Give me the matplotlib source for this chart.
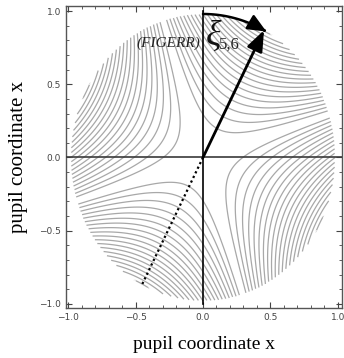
import numpy as np
import matplotlib
matplotlib.use('Agg')
import matplotlib.pyplot as plt
from matplotlib.patches import FancyArrowPatch
from matplotlib.path import Path
from matplotlib.ticker import MultipleLocator

# orientation of the astigmatism axis (degrees) and plotted contour levels
xi_deg = 62.5
contour_levels = [-0.95, -0.90, -0.85, -0.80, -0.75, -0.70, -0.65, -0.60, -0.55,
                  -0.50, -0.45, -0.40, -0.35, -0.30, -0.25, -0.20, -0.15, -0.10, -0.05,
                  0.05, 0.10, 0.15, 0.20, 0.25, 0.30, 0.35, 0.40, 0.45, 0.50,
                  0.55, 0.60, 0.65, 0.70, 0.75, 0.80, 0.85, 0.90, 0.95]
pupil_radius = 0.98
tick_major = [-1.0, -0.5, 0.0, 0.5, 1.0]
label_x = 'pupil coordinate x'
label_y = 'pupil coordinate x'

serif = 'Liberation Serif'

fig = plt.figure(figsize=(3.44, 3.58), dpi=100)
ax = fig.add_axes([0.192, 0.140, 0.802, 0.843])

# astigmatic wavefront r^2 cos(2(theta - xi)) inside the pupil
g = np.linspace(-1.0, 1.0, 500)
X, Y = np.meshgrid(g, g)
R = np.hypot(X, Y)
T = np.arctan2(Y, X)
xi = np.deg2rad(xi_deg)
Z = R**2 * np.cos(2 * (T - xi))
Z = np.ma.masked_where(R > pupil_radius, Z)
ax.contour(X, Y, Z, levels=contour_levels, colors='#a8a8a8', linewidths=0.9,
           linestyles='solid')

# pupil axes
ax.axhline(0, color='#3a3a3a', lw=1.2, zorder=3)
ax.plot([0, 0], [-1, 1], color='black', lw=1.2, zorder=3)

# axis direction and its opposite (dotted)
tip = (pupil_radius * np.cos(xi), pupil_radius * np.sin(xi))
ax.annotate('', xy=tip, xytext=(0, 0),
            arrowprops=dict(arrowstyle='-|>,head_length=0.9,head_width=0.35',
                            lw=2.0, color='black', mutation_scale=14,
                            shrinkA=0, shrinkB=0), zorder=5)
ax.plot([0, -tip[0]], [0, -tip[1]], color='black', lw=1.6, ls=(0, (1, 1.3)), zorder=4)

# angle arc from the vertical axis down to the arrow
a = np.linspace(np.pi / 2, xi - 0.02, 40)
arc = Path(np.column_stack([pupil_radius * np.cos(a), pupil_radius * np.sin(a)]))
ax.add_patch(FancyArrowPatch(path=arc, arrowstyle='-|>,head_length=0.8,head_width=0.35',
                             mutation_scale=14, lw=1.8, color='black', zorder=5))

ax.text(-0.02, 0.78, '(FIGERR)', family=serif, style='italic', fontsize=11,
        color='#222222', ha='right', va='center', zorder=6)
ax.text(0.02, 0.83, 'ξ', family=serif, style='italic', fontsize=26,
        color='#111111', ha='left', va='center', zorder=6)
ax.text(0.12, 0.77, '5,6', family=serif, fontsize=12,
        color='#222222', ha='left', va='center', zorder=6)

ax.set_xlim(-1.015, 1.03)
ax.set_ylim(-1.027, 1.034)
ax.set_xticks(tick_major)
ax.set_yticks(tick_major)
ax.xaxis.set_minor_locator(MultipleLocator(0.1))
ax.yaxis.set_minor_locator(MultipleLocator(0.1))
ax.tick_params(which='both', direction='in', top=True, right=True,
               colors='#444444', labelsize=6.5, labelcolor='#444444')
ax.tick_params(which='major', length=4, width=0.8)
ax.tick_params(which='minor', length=2, width=0.6)
for s in ax.spines.values():
    s.set_color('#555555')
    s.set_linewidth(1.0)

ax.set_xlabel(label_x, family=serif, fontsize=14, labelpad=10)
ax.set_ylabel(label_y, family=serif, fontsize=15, labelpad=8)

fig.savefig('out.png', dpi=100)
